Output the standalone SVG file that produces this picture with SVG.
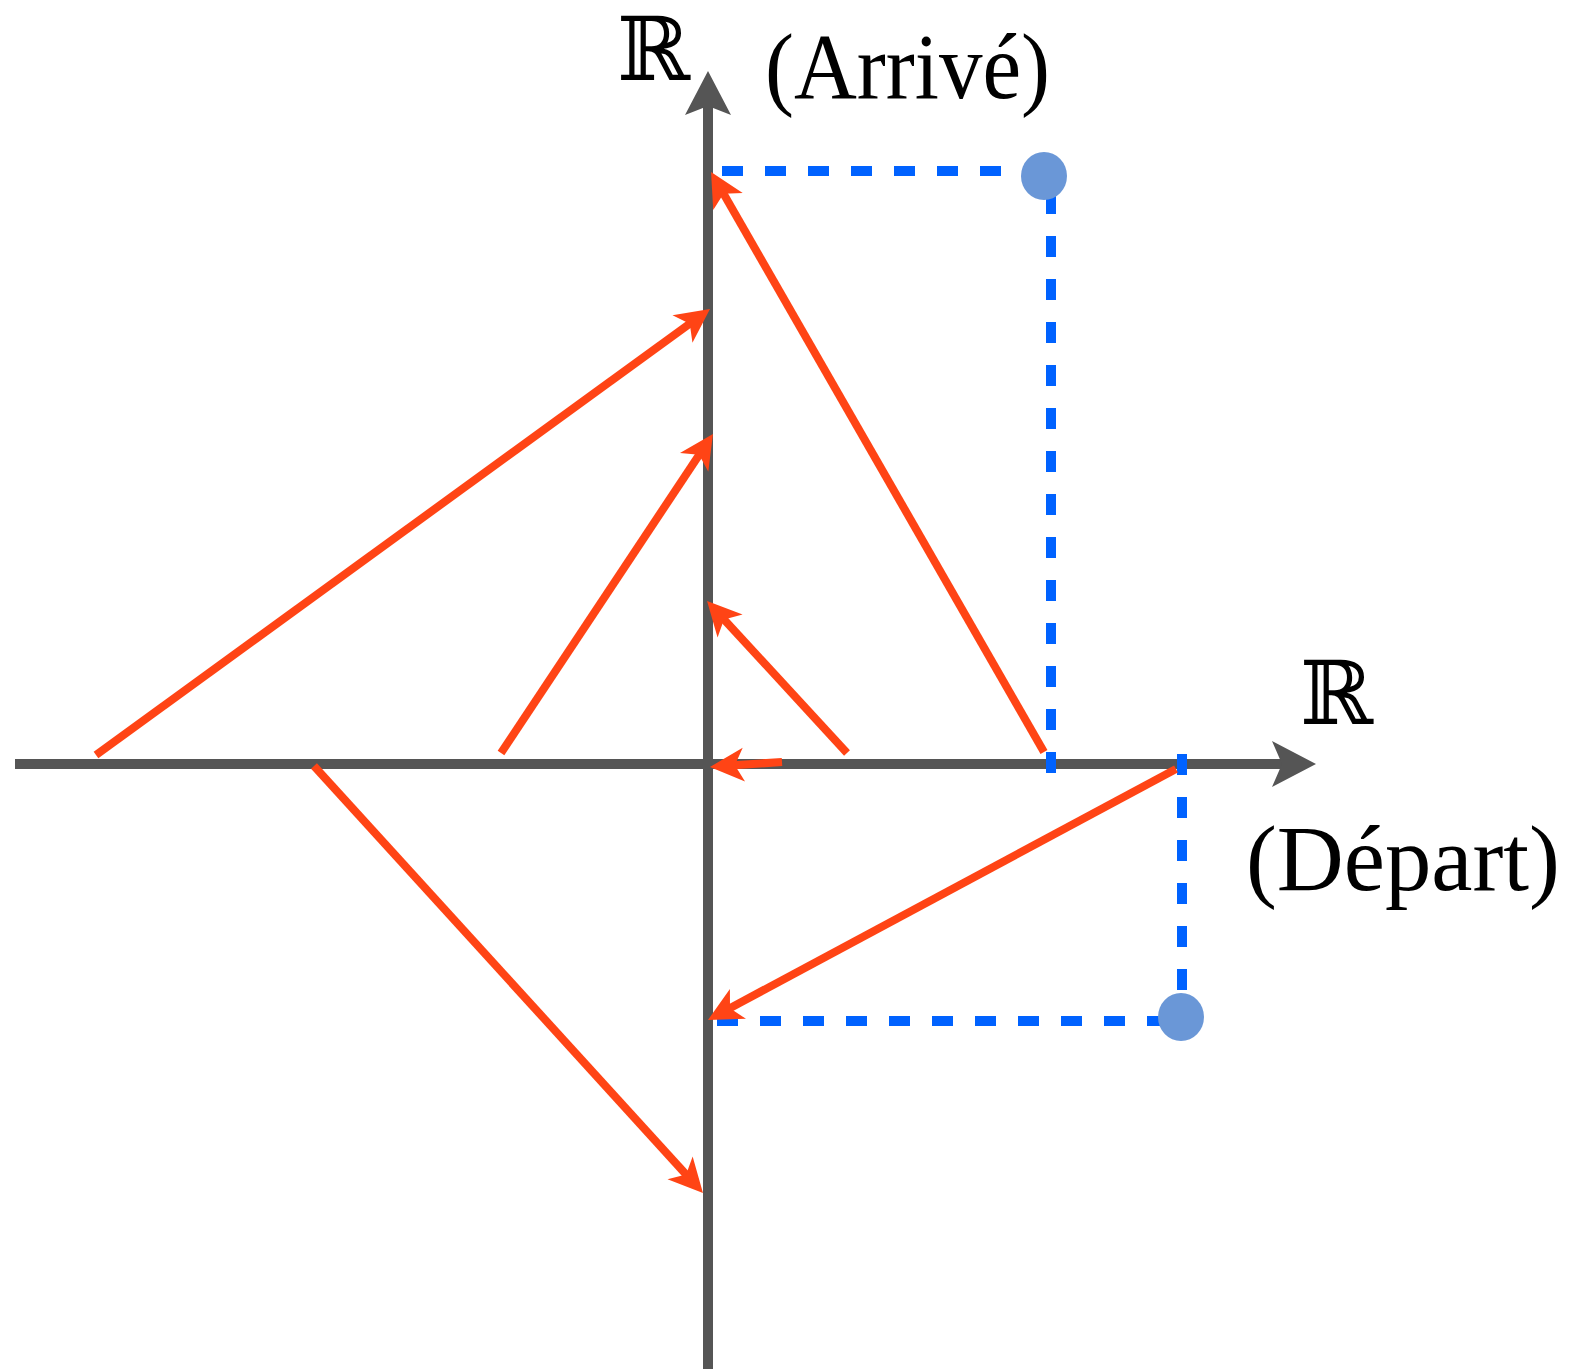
<svg xmlns="http://www.w3.org/2000/svg" width="1572" height="1369" viewBox="0 0 1572 1369">
<style>
.axis{stroke:#555555;stroke-width:10;fill:none}
.axhead{fill:#555555}
.dash{stroke:#0062FF;stroke-width:10;fill:none;stroke-dasharray:21 22}
.dot{fill:#6A97D7}
.red{stroke:#FF4415;stroke-width:8;fill:none;marker-end:url(#ah)}
.lbl{font-family:"Liberation Serif","DejaVu Serif",serif;fill:#000}
.bb{font-family:"DejaVu Serif",serif;fill:#000}
</style>
<defs>
<marker id="ah" markerUnits="userSpaceOnUse" orient="auto" refX="0" refY="0" markerWidth="60" markerHeight="60" overflow="visible">
<path d="M20,0 L-14,-17 L-5,0 L-14,17 Z" fill="#FF4415"/>
</marker>
</defs>
<g id="axes">
<line class="axis" x1="15" y1="764" x2="1282" y2="764"/>
<path class="axhead" d="M1316,764 L1272,741 L1282,764 L1272,787 Z"/>
<line class="axis" x1="708" y1="1369" x2="708" y2="105"/>
<path class="axhead" d="M708,71 L685,115 L708,106 L731,115 Z"/>
</g>
<g id="guides">
<line class="dash" x1="722" y1="171" x2="1030" y2="171"/>
<line class="dash" x1="1051" y1="773" x2="1051" y2="190"/>
<line class="dash" x1="717" y1="1021" x2="1165" y2="1021"/>
<line class="dash" x1="1182" y1="754" x2="1182" y2="990"/>
</g>
<g id="dot-arrive"><ellipse class="dot" cx="1044" cy="176" rx="23" ry="24"/></g>
<g id="dot-depart"><ellipse class="dot" cx="1181" cy="1017" rx="23" ry="24"/></g>
<g id="connectors">
<line class="red" x1="1044" y1="752" x2="721" y2="189.3"/>
<line class="red" x1="96" y1="755" x2="693.8" y2="320.8"/>
<line class="red" x1="501" y1="753" x2="701.9" y2="450.7"/>
<line class="red" x1="847" y1="753" x2="720.6" y2="615.7"/>
<line class="red" x1="782" y1="762" x2="729.9" y2="765.6"/>
<line class="red" x1="1176" y1="769" x2="725.6" y2="1010.5"/>
<line class="red" x1="314" y1="766" x2="689.5" y2="1178.2"/>
</g>
<g id="label-y-R"><text class="bb" x="617" y="80" font-size="88">ℝ</text></g>
<g id="label-arrive"><text class="lbl" x="765" y="98" font-size="94" textLength="285" lengthAdjust="spacingAndGlyphs">(Arrivé)</text></g>
<g id="label-x-R"><text class="bb" x="1300" y="724" font-size="88">ℝ</text></g>
<g id="label-depart"><text class="lbl" x="1246" y="890" font-size="94" textLength="314" lengthAdjust="spacingAndGlyphs">(Départ)</text></g>
</svg>
